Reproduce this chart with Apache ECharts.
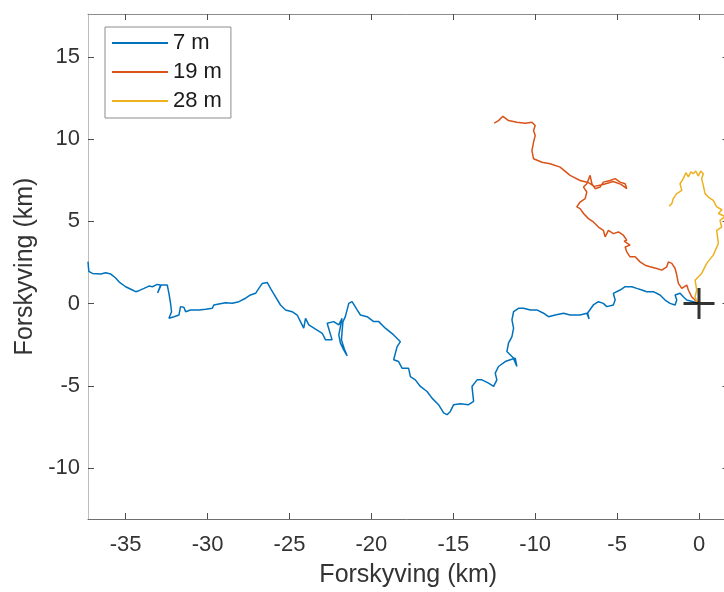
<!DOCTYPE html>
<html>
<head>
<meta charset="utf-8">
<title>Forskyving</title>
<script src="https://cdn.jsdelivr.net/npm/echarts@6/dist/echarts.min.js"></script>
<style>
    html, body { margin: 0; padding: 0; background: #fff; }
    #chart { width: 724px; height: 592px; }
</style>
</head>
<body>
<div id="chart"></div>
<script>
// Drift tracks (km)
const seriesNames = ['7 m', '19 m', '28 m'];
const xTicks = [-35, -30, -25, -20, -15, -10, -5, 0];
const yTicks = [-10, -5, 0, 5, 10, 15];

const track7m = [
    [-37.3, 2.55], [-37.25, 1.95], [-37.03, 1.83], [-36.52, 1.79], [-36.22, 1.87], [-35.91, 1.79],
    [-35.81, 1.87], [-35.61, 1.55], [-35.41, 1.32], [-35.0, 1.02], [-34.59, 0.82], [-34.39, 0.72],
    [-34.19, 0.78], [-33.88, 0.92], [-33.58, 1.06], [-33.37, 1.02], [-33.07, 1.16], [-32.87, 1.12],
    [-33.05, 0.64], [-32.84, 1.12], [-32.46, 1.12], [-32.36, 0.62], [-32.26, 0.01], [-32.2, -0.5],
    [-32.36, -0.9], [-32.05, -0.8], [-31.75, -0.7], [-31.65, -0.19], [-31.45, -0.23], [-31.34, -0.5],
    [-31.04, -0.39], [-30.53, -0.39], [-30.12, -0.35], [-29.71, -0.29], [-29.62, -0.09], [-29.31, -0.03],
    [-28.9, 0.05], [-28.49, 0.01], [-28.09, 0.11], [-27.68, 0.32], [-27.38, 0.52], [-27.07, 0.62],
    [-26.87, 0.92], [-26.66, 1.22], [-26.36, 1.28], [-26.16, 0.92], [-25.85, 0.41], [-25.55, -0.09],
    [-25.24, -0.39], [-24.84, -0.5], [-24.53, -0.7], [-24.33, -1.1], [-24.13, -1.5], [-24.02, -0.9],
    [-23.82, -1.3], [-23.41, -1.56], [-23.0, -1.81], [-22.8, -2.21], [-22.4, -2.21], [-22.7, -1.2],
    [-22.3, -1.1], [-21.99, -1.3], [-21.79, -0.9], [-21.99, -1.91], [-21.89, -2.41], [-21.69, -2.82],
    [-21.48, -3.18], [-21.65, -2.76], [-21.83, -2.21], [-21.74, -1.12], [-21.59, -0.8], [-21.38, 0.01],
    [-21.18, 0.11], [-20.87, -0.39], [-20.67, -0.7], [-20.26, -0.8], [-19.86, -1.1], [-19.55, -1.1],
    [-19.15, -1.5], [-18.64, -1.91], [-18.23, -2.32], [-18.43, -2.62], [-18.64, -3.42], [-18.34, -3.53],
    [-18.13, -3.93], [-17.73, -3.93], [-17.62, -4.44], [-17.32, -4.64], [-17.01, -5.04], [-16.6, -5.35],
    [-16.3, -5.75], [-15.9, -6.15], [-15.59, -6.65], [-15.38, -6.76], [-15.18, -6.56], [-14.98, -6.15],
    [-14.57, -6.09], [-14.07, -6.15], [-13.76, -5.95], [-13.86, -5.04], [-13.55, -4.64], [-13.25, -4.64],
    [-12.85, -4.84], [-12.54, -5.04], [-12.34, -4.64], [-12.44, -4.23], [-12.24, -3.83], [-11.83, -3.53],
    [-11.52, -3.42], [-11.22, -3.32], [-11.12, -3.83], [-11.34, -3.3], [-11.73, -2.92], [-11.63, -2.41],
    [-11.42, -2.01], [-11.32, -1.5], [-11.42, -1.0], [-11.32, -0.5], [-11.02, -0.29], [-10.71, -0.29],
    [-10.3, -0.39], [-9.9, -0.39], [-9.49, -0.59], [-9.19, -0.8], [-8.78, -0.7], [-8.27, -0.59],
    [-7.87, -0.7], [-7.26, -0.7], [-6.85, -0.59], [-6.71, -0.94], [-6.8, -0.58], [-6.75, -0.5],
    [-6.45, -0.09], [-6.14, 0.11], [-5.84, 0.01], [-5.63, -0.19], [-5.23, -0.09], [-5.12, 0.21],
    [-5.23, 0.62], [-4.82, 0.82], [-4.51, 1.02], [-4.1, 1.02], [-3.8, 0.92], [-3.49, 0.82],
    [-3.19, 0.72], [-2.79, 0.72], [-2.38, 0.52], [-2.07, 0.21], [-1.77, 0.01], [-1.46, -0.09],
    [-1.36, 0.21], [-1.46, 0.52], [-1.16, 0.62], [-0.96, 0.41], [-0.75, 0.21], [-0.35, 0.11], [0, 0]
];

const track19m = [
    [0, 0], [-0.14, 0.11], [-0.45, 0.41], [-0.65, 0.82], [-0.75, 1.12], [-1.05, 0.92], [-1.26, 1.22],
    [-1.36, 1.73], [-1.46, 2.13], [-1.66, 2.44], [-1.87, 2.53], [-1.97, 2.23], [-2.27, 2.03],
    [-2.58, 2.13], [-2.99, 2.23], [-3.29, 2.33], [-3.6, 2.53], [-3.9, 2.84], [-4.21, 2.84],
    [-4.41, 3.14], [-4.51, 3.44], [-4.21, 3.55], [-4.33, 3.67], [-4.57, 3.79], [-4.41, 3.85],
    [-4.62, 4.15], [-4.92, 4.35], [-5.23, 4.25], [-5.53, 4.45], [-5.73, 4.05], [-5.84, 4.45],
    [-6.14, 4.65], [-6.45, 4.96], [-6.75, 5.16], [-7.05, 5.47], [-7.26, 5.77], [-7.46, 5.87],
    [-7.26, 6.17], [-6.95, 6.38], [-6.85, 6.78], [-7.05, 7.08], [-6.85, 7.28], [-6.65, 7.79],
    [-6.54, 7.28], [-6.34, 6.98], [-6.04, 7.08], [-5.84, 7.38], [-5.43, 7.48], [-5.12, 7.59],
    [-4.82, 7.38], [-4.51, 7.28], [-4.41, 6.98], [-4.76, 7.24], [-5.24, 7.42], [-5.85, 7.24],
    [-6.4, 7.12], [-6.77, 7.36], [-7.26, 7.48], [-7.87, 7.79], [-8.48, 8.29], [-9.09, 8.5],
    [-9.59, 8.59], [-10.1, 8.8], [-10.2, 9.3], [-10.1, 9.81], [-10.0, 10.21], [-10.1, 10.52],
    [-10.0, 10.82], [-10.2, 11.02], [-10.61, 10.96], [-11.12, 11.02], [-11.63, 11.12],
    [-11.97, 11.38], [-12.24, 11.12], [-12.5, 10.96]
];

const track28m = [
    [0, 0], [-0.14, 0.11], [-0.24, 0.41], [-0.14, 0.82], [-0.24, 1.42], [0.16, 1.83], [0.47, 2.44],
    [0.87, 2.94], [1.18, 3.65], [1.08, 4.45], [1.38, 4.65], [1.28, 5.06], [1.6, 5.3], [1.18, 5.47],
    [1.4, 5.7], [1.08, 5.87], [0.87, 6.27], [0.57, 6.47], [0.37, 6.68], [0.26, 7.18], [0.16, 7.59],
    [0.26, 7.89], [0.1, 8.05], [-0.04, 7.75], [-0.2, 8.05], [-0.35, 7.89], [-0.5, 8.0], [-0.65, 7.7],
    [-0.8, 7.95], [-0.96, 7.59], [-1.16, 7.28], [-1.05, 6.88], [-1.36, 6.68], [-1.57, 6.38],
    [-1.66, 6.07], [-1.83, 5.91]
];

const originPoint = [[0, 0]];

const chart = echarts.init(document.getElementById('chart'));

const font = '"Liberation Sans", Arial, Helvetica, sans-serif';
const tickColor = '#4d4d4d';
const labelColor = '#333333';

const option = {
    animation: false,
    grid: {
        left: 88,
        right: -4.5,
        top: 14,
        bottom: 73,
        outerBoundsMode: 'none'
    },
    legend: {
        data: seriesNames,
        orient: 'vertical',
        left: 105,
        top: 27,
        padding: [5, 9, 6, 7],
        itemGap: 7,
        itemWidth: 56,
        itemHeight: 2,
        icon: 'rect',
        borderColor: '#8c8c8c',
        borderWidth: 1,
        backgroundColor: '#fff',
        textStyle: {
            fontFamily: font,
            fontSize: 22,
            lineHeight: 22,
            color: '#1a1a1a'
        }
    },
    xAxis: [
        {
            type: 'value',
            min: -37.3,
            max: 1.8,
            name: 'Forskyving (km)',
            nameLocation: 'middle',
            nameGap: 44,
            nameTextStyle: { fontFamily: font, fontSize: 25, color: labelColor },
            axisLine: { onZero: false, lineStyle: { color: '#6e6e6e', width: 1 } },
            axisTick: { inside: true, length: 6, customValues: xTicks, lineStyle: { color: tickColor } },
            axisLabel: { customValues: xTicks, margin: 15, fontFamily: font, fontSize: 22, color: labelColor },
            splitLine: { show: false }
        },
        {
            type: 'value',
            position: 'top',
            min: -37.3,
            max: 1.8,
            axisLine: { onZero: false, lineStyle: { color: '#8c8c8c', width: 1 } },
            axisTick: { inside: true, length: 6, customValues: xTicks, lineStyle: { color: tickColor } },
            axisLabel: { show: false },
            splitLine: { show: false }
        }
    ],
    yAxis: [
        {
            type: 'value',
            min: -13.1,
            max: 17.6,
            name: 'Forskyving (km)',
            nameLocation: 'middle',
            nameGap: 49,
            nameTextStyle: { fontFamily: font, fontSize: 25, color: labelColor },
            axisLine: { onZero: false, lineStyle: { color: '#bdbdbd', width: 1 } },
            axisTick: { inside: true, length: 6, customValues: yTicks, lineStyle: { color: tickColor } },
            axisLabel: { customValues: yTicks, margin: 8, fontFamily: font, fontSize: 22, color: labelColor },
            splitLine: { show: false }
        },
        {
            type: 'value',
            position: 'right',
            min: -13.1,
            max: 17.6,
            axisLine: { onZero: false, lineStyle: { color: '#8c8c8c', width: 1 } },
            axisTick: { inside: true, length: 6, customValues: yTicks, lineStyle: { color: tickColor } },
            axisLabel: { show: false },
            splitLine: { show: false }
        }
    ],
    series: [
        {
            name: seriesNames[0],
            type: 'line',
            data: track7m,
            showSymbol: false,
            symbol: 'none',
            clip: true,
            itemStyle: { color: '#0072BD' },
            lineStyle: { color: '#0072BD', width: 1.5 }
        },
        {
            name: seriesNames[1],
            type: 'line',
            data: track19m,
            showSymbol: false,
            symbol: 'none',
            clip: true,
            itemStyle: { color: '#D95319' },
            lineStyle: { color: '#D95319', width: 1.5 }
        },
        {
            name: seriesNames[2],
            type: 'line',
            data: track28m,
            showSymbol: false,
            symbol: 'none',
            clip: true,
            itemStyle: { color: '#EDB120' },
            lineStyle: { color: '#EDB120', width: 1.5 }
        },
        {
            name: 'origin',
            type: 'scatter',
            data: originPoint,
            symbol: 'path://M14,0 H17 V14 H31 V17 H17 V31 H14 V17 H0 V14 H14 Z',
            symbolSize: 31,
            itemStyle: { color: '#000000' },
            z: 5
        }
    ]
};

chart.setOption(option);
</script>
</body>
</html>
